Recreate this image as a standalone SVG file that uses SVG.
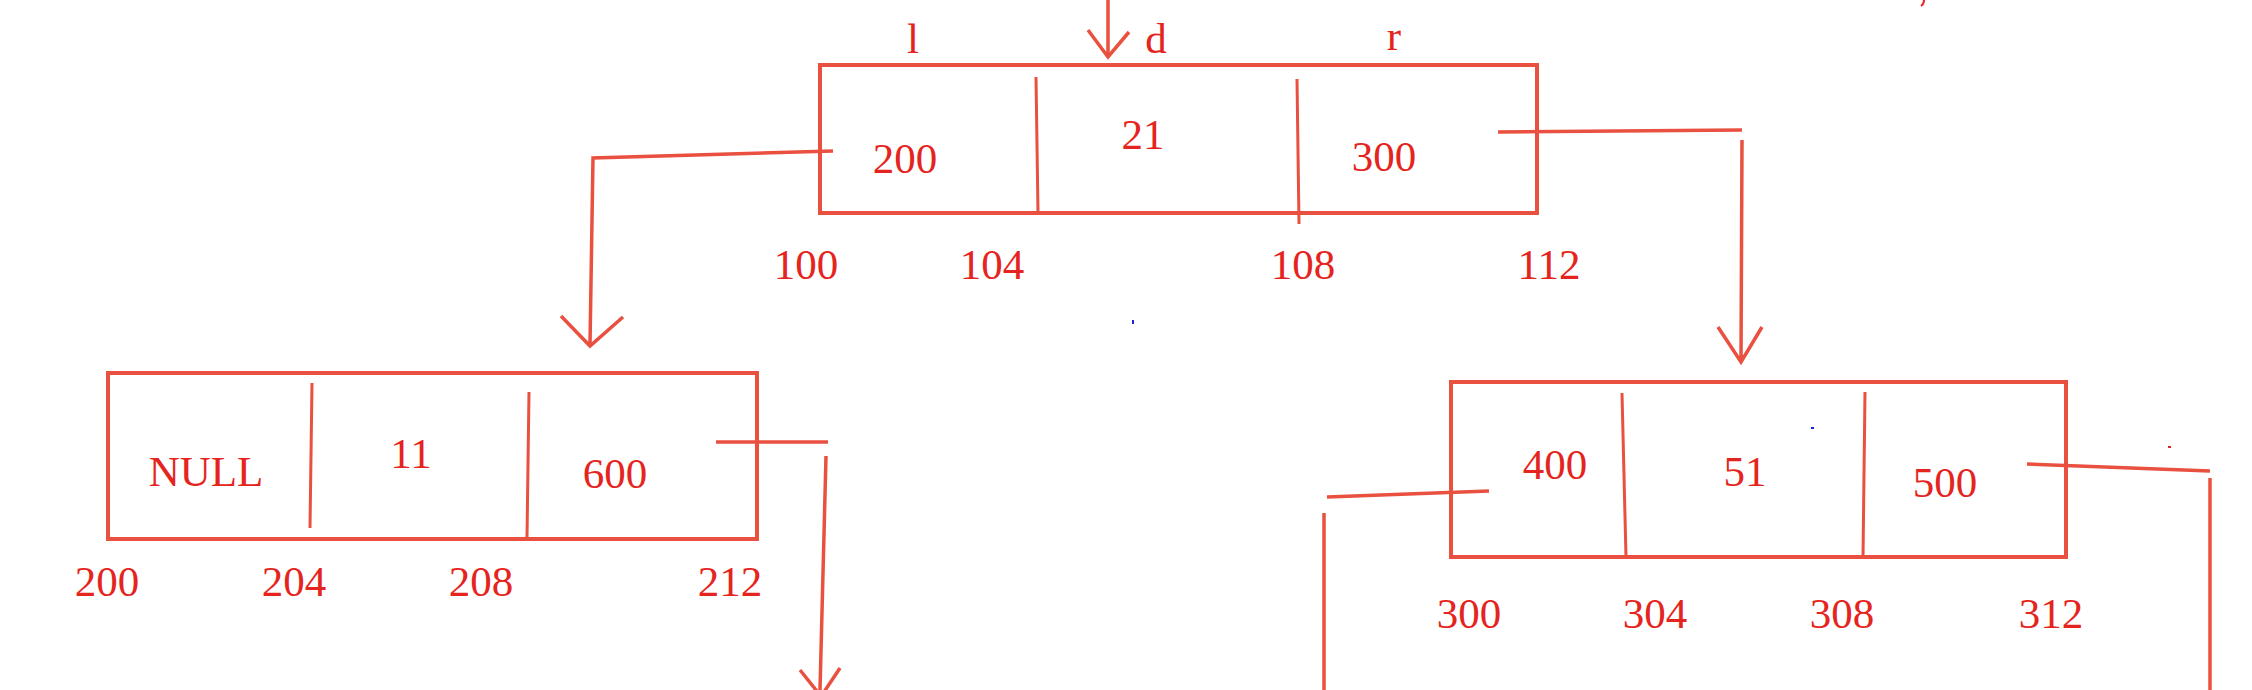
<svg xmlns="http://www.w3.org/2000/svg" width="2252" height="690" viewBox="0 0 2252 690">
<style>
.box{fill:none;stroke:#e9503f;stroke-width:4}
.div{fill:none;stroke:#e9503f;stroke-width:3}
.con{fill:none;stroke:#e9503f;stroke-width:3.5;stroke-linecap:butt}
text{font-family:"Liberation Serif","Times New Roman",serif;font-size:43px;fill:#e52420;text-anchor:middle}
</style>
<rect width="2252" height="690" fill="#ffffff"/>
<g id="node-root">
<rect class="box" x="820" y="65" width="717" height="148"/>
<line class="div" x1="1036" y1="77" x2="1038" y2="213"/>
<line class="div" x1="1297" y1="79" x2="1299" y2="224"/>
<text x="913" y="53">l</text>
<text x="1156" y="53">d</text>
<text x="1394" y="50">r</text>
<text x="905" y="173">200</text>
<text x="1143" y="149">21</text>
<text x="1384" y="171">300</text>
<text x="806" y="279">100</text>
<text x="992" y="279">104</text>
<text x="1303" y="279">108</text>
<text x="1549" y="279">112</text>
</g>
<g id="node-left">
<rect class="box" x="108" y="373" width="649" height="166"/>
<line class="div" x1="312" y1="383" x2="310" y2="528"/>
<line class="div" x1="529" y1="392" x2="527" y2="538"/>
<text x="206" y="486">NULL</text>
<text x="411" y="468">11</text>
<text x="615" y="488">600</text>
<text x="107" y="596">200</text>
<text x="294" y="596">204</text>
<text x="481" y="596">208</text>
<text x="730" y="596">212</text>
</g>
<g id="node-right">
<rect class="box" x="1451" y="382" width="615" height="175"/>
<line class="div" x1="1622" y1="393" x2="1626" y2="557"/>
<line class="div" x1="1865" y1="392" x2="1863" y2="557"/>
<text x="1555" y="479">400</text>
<text x="1745" y="486">51</text>
<text x="1945" y="497">500</text>
<text x="1469" y="628">300</text>
<text x="1655" y="628">304</text>
<text x="1842" y="628">308</text>
<text x="2051" y="628">312</text>
</g>
<g id="connectors">
<path class="con" d="M1108 0 L1108 57 M1088 30 L1108 57 L1129 32"/>
<path class="con" d="M833 151 L593 158 L590 345 M561 316 L590 346 L623 317"/>
<path class="con" d="M1498 132 L1742 130 M1742 140 L1741 360 M1718 327 L1741 362 L1762 327"/>
<path class="con" d="M716 442 L828 442 M826 456 L820 690 M800 670 L820 695 M840 668 L822 695"/>
<path class="con" d="M1489 491 L1327 497 M1324 513 L1324 690"/>
<path class="con" d="M2027 464 L2210 471 M2210 478 L2210 690"/>
</g>
<g id="marks">
<rect x="1132" y="320" width="2" height="4" fill="#2020e0"/>
<rect x="1811" y="427" width="3" height="2" fill="#2020e0"/>
<rect x="2168" y="446" width="3" height="2" fill="#e52420"/>
<path d="M1924 0 Q1924 4 1921 6" fill="none" stroke="#e52420" stroke-width="2"/>
</g>
</svg>
